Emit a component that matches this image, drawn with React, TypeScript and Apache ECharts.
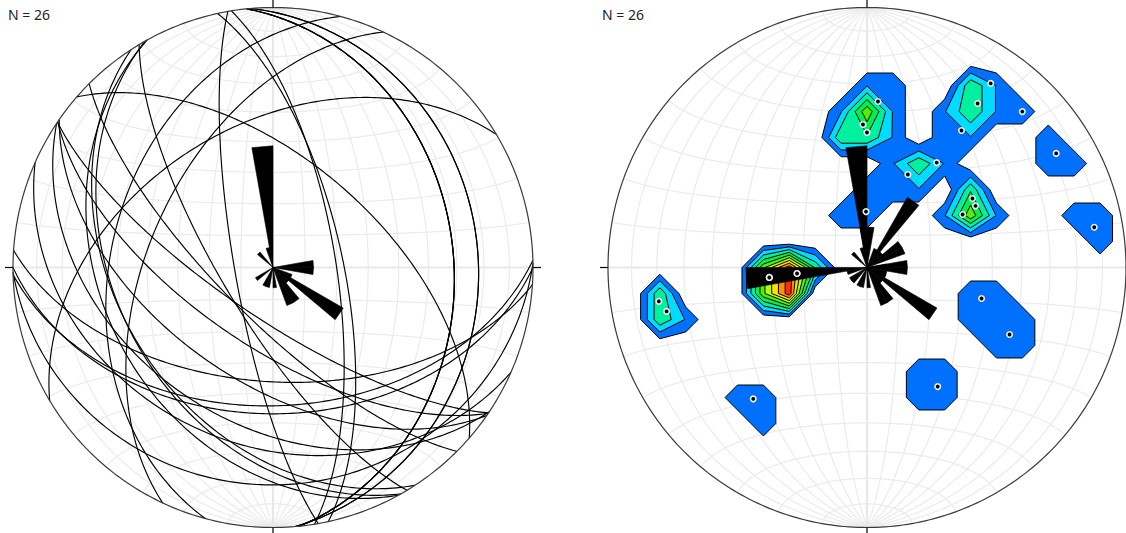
import React, { useEffect, useRef } from 'react';
import * as echarts from 'echarts';

// ---- data: planes (dip direction °, dip °) ----
const dipDirections = [183.8, 178.4, 180.0, 179.0, 203.8, 213.7, 214.0, 214.1, 214.7, 225.0, 239.0, 236.9, 240.5, 241.1, 260.0, 80.8, 77.7, 84.2, 84.2, 84.2, 85.1, 85.1, 285.1, 295.1, 329.2, 41.0];
const dips = [53.8, 45.8, 43.1, 17.5, 32.1, 40.1, 74.3, 65.2, 53.9, 73.7, 74.1, 40.2, 39.8, 34.7, 78.1, 70.3, 68.1, 31.1, 31.1, 31.1, 22.1, 22.1, 37.8, 50.9, 44.3, 56.5];

// density contour levels (% per 1% area) and their colours
const contourLevels = [2, 4, 6, 8, 10, 12, 14, 16, 18];
const contourColors = ['#0070ff', '#00dcff', '#00f0a0', '#00f050', '#50f000', '#b0ff00', '#ffe000', '#ff9000', '#ff3000'];
const netLabel = 'N = ' + dipDirections.length;
const roseBinWidth = 10;

// ---- layout / style constants ----
const R = 260;
const CY = 267.5;
const CX = [273, 868];
const ROSE_UNIT = 0.078; // radius fraction per count
const TICK = 8 / R;

const D = Math.PI / 180;
type V3 = [number, number, number];
const project = (v: V3): [number, number] => {
  const f = 1 / Math.sqrt(1 + v[2]);
  return [v[0] * f, v[1] * f];
};

function greatCircle(dd: number, dip: number): [number, number][] {
  const az = (dd - 90) * D, d = dd * D, dp = dip * D;
  const s: V3 = [Math.sin(az), Math.cos(az), 0];
  const w: V3 = [Math.sin(d) * Math.cos(dp), Math.cos(d) * Math.cos(dp), Math.sin(dp)];
  const pts: [number, number][] = [];
  for (let t = 0; t <= 180; t += 1) {
    const c = Math.cos(t * D), sn = Math.sin(t * D);
    pts.push(project([c * s[0] + sn * w[0], c * s[1] + sn * w[1], Math.max(0, c * s[2] + sn * w[2])]));
  }
  return pts;
}
function smallCircle(alpha: number): [number, number][] {
  const pts: [number, number][] = [];
  const a = alpha * D;
  for (let p = 0; p <= 180; p += 1) {
    pts.push(project([Math.sin(a) * Math.cos(p * D), Math.cos(a), Math.sin(a) * Math.sin(p * D)]));
  }
  return pts;
}
const poleVec = (dd: number, dip: number): V3 => {
  const tr = (dd + 180) * D, pl = (90 - dip) * D;
  return [Math.sin(tr) * Math.cos(pl), Math.cos(tr) * Math.cos(pl), Math.sin(pl)];
};

// net
const netMinor: [number, number][][] = [];
const netMajor: [number, number][][] = [];
for (let a = 10; a <= 80; a += 10) { netMinor.push(greatCircle(90, a)); netMinor.push(greatCircle(270, a)); }
netMajor.push(greatCircle(90, 90));
for (let a = 10; a <= 170; a += 10) { (a === 90 ? netMajor : netMinor).push(smallCircle(a)); }
const primitive: [number, number][] = [];
for (let a = 0; a <= 360; a += 1) primitive.push([Math.sin(a * D), Math.cos(a * D)]);
const ticks: [number, number][][] = [
  [[0, 1], [0, 1 + TICK]], [[0, -1], [0, -1 - TICK]], [[1, 0], [1 + TICK, 0]], [[-1, 0], [-1 - TICK, 0]],
];

const planeCircles = dipDirections.map((dd, i) => greatCircle(dd, dips[i]));
const poles = dipDirections.map((dd, i) => poleVec(dd, dips[i]));
const polePoints = poles.map((p) => project(p));

// roses
function roseCounts(angles: number[]) {
  const c = new Array(360 / roseBinWidth).fill(0);
  angles.forEach((a) => { c[Math.floor((((a % 360) + 360) % 360) / roseBinWidth)]++; });
  return c;
}
const strikes = dipDirections.map((d) => d - 90);
const poleTrends = dipDirections.map((d) => d + 180);
const strikeRose = roseCounts(strikes);
const trendRose = roseCounts(poleTrends);
const roseItems = (counts: number[]) => counts.map((c, i) => [0, 0, i * roseBinWidth, c]).filter((d) => d[3] > 0);

// density grid (1% counting circle)
const STEP = 0.1, OFF = 12, NG = 25;
const CAP = 0.99;
const dens: number[][] = [];
for (let i = 0; i < NG; i++) {
  dens.push([]);
  for (let j = 0; j < NG; j++) {
    const X = (i - OFF) * STEP, Y = (j - OFF) * STEP, r2 = X * X + Y * Y;
    let v = 0;
    if (r2 <= 1.22) {
      const z = 1 - r2, h = Math.sqrt(Math.max(0, 1 - z * z)), r = Math.sqrt(r2);
      const x = r > 0 ? (X / r) * h : 0, y = r > 0 ? (Y / r) * h : 0;
      let c = 0;
      poles.forEach((p) => { if (Math.abs(p[0] * x + p[1] * y + p[2] * z) >= CAP) c++; });
      v = (c * 100) / poles.length;
    }
    dens[i].push(v);
  }
}
type P2 = [number, number];
function contour(t: number) {
  const polys: P2[][] = [];
  const segs: [P2, P2][] = [];
  for (let i = 0; i < NG - 1; i++) {
    for (let j = 0; j < NG - 1; j++) {
      const cs = [[i, j], [i + 1, j], [i + 1, j + 1], [i, j + 1]];
      const v = cs.map(([a, b]) => dens[a][b]);
      const ins = v.map((x) => x >= t);
      const cnt = ins.filter(Boolean).length;
      if (cnt === 0) continue;
      const P = (k: number): P2 => [(cs[k][0] - OFF) * STEP, (cs[k][1] - OFF) * STEP];
      const E = (k: number): P2 => {
        const k2 = (k + 1) % 4;
        const f = (t - v[k]) / (v[k2] - v[k]);
        const a = P(k), b = P(k2);
        return [a[0] + (b[0] - a[0]) * f, a[1] + (b[1] - a[1]) * f];
      };
      if (cnt === 4) { polys.push([P(0), P(1), P(2), P(3)]); continue; }
      const saddle = cnt === 2 && ins[0] === ins[2];
      const centerIn = (v[0] + v[1] + v[2] + v[3]) / 4 >= t;
      if (saddle && !centerIn) {
        for (let k = 0; k < 4; k++) if (ins[k]) polys.push([E((k + 3) % 4), P(k), E(k)]);
      } else {
        const poly: P2[] = [];
        for (let k = 0; k < 4; k++) {
          if (ins[k]) poly.push(P(k));
          if (ins[k] !== ins[(k + 1) % 4]) poly.push(E(k));
        }
        polys.push(poly);
      }
      if (saddle) {
        for (let k = 0; k < 4; k++) if (ins[k] !== centerIn) segs.push([E((k + 3) % 4), E(k)]);
      } else {
        const cr: P2[] = [];
        for (let k = 0; k < 4; k++) if (ins[k] !== ins[(k + 1) % 4]) cr.push(E(k));
        if (cr.length === 2) segs.push([cr[0], cr[1]]);
      }
    }
  }
  return { polys, segs };
}
const contours = contourLevels.map((l) => contour(l));

// ---- series builders ----
function polySeries(grid: number, lines: [number, number][][], style: any, z: number) {
  return {
    type: 'custom', xAxisIndex: grid, yAxisIndex: grid, z, silent: true,
    data: lines.map((_, i) => [0, 0, i]),
    renderItem: (_p: any, api: any) => {
      const pts = lines[api.value(2)].map((p) => api.coord(p));
      return { type: 'polyline', shape: { points: pts }, style: { fill: 'none', ...style } };
    },
  };
}
function roseSeries(grid: number, items: number[][], z: number) {
  return {
    type: 'custom', xAxisIndex: grid, yAxisIndex: grid, z, silent: true,
    data: items,
    renderItem: (_p: any, api: any) => {
      const a1 = api.value(2) * D, a2 = (api.value(2) + roseBinWidth) * D, L = api.value(3) * ROSE_UNIT;
      const pts = [api.coord([0, 0]), api.coord([L * Math.sin(a1), L * Math.cos(a1)]), api.coord([L * Math.sin(a2), L * Math.cos(a2)])];
      return { type: 'polygon', shape: { points: pts }, style: { fill: '#000', stroke: '#000', lineWidth: 0.6, lineJoin: 'round' } };
    },
  };
}
const contourFillSeries = {
  type: 'custom', xAxisIndex: 1, yAxisIndex: 1, z: 2, silent: true,
  data: contourLevels.map((_, k) => [0, 0, k]),
  renderItem: (_p: any, api: any) => {
    const k = api.value(2);
    let d = '';
    contours[k].polys.forEach((poly) => {
      poly.forEach((p, n) => { const c = api.coord(p); d += (n === 0 ? 'M' : 'L') + c[0].toFixed(2) + ' ' + c[1].toFixed(2) + ' '; });
      d += 'Z ';
    });
    if (!d) return null;
    return { type: 'path', shape: { pathData: d }, style: { fill: contourColors[k], stroke: 'none' } };
  },
};
const contourLineSeries = {
  type: 'custom', xAxisIndex: 1, yAxisIndex: 1, z: 3, silent: true,
  data: contourLevels.map((_, k) => [0, 0, k]),
  renderItem: (_p: any, api: any) => {
    const k = api.value(2);
    let d = '';
    contours[k].segs.forEach(([a, b]) => {
      const ca = api.coord(a), cb = api.coord(b);
      d += 'M' + ca[0].toFixed(2) + ' ' + ca[1].toFixed(2) + ' L' + cb[0].toFixed(2) + ' ' + cb[1].toFixed(2) + ' ';
    });
    if (!d) return null;
    return { type: 'path', shape: { pathData: d }, style: { fill: 'none', stroke: '#000', lineWidth: 1 } };
  },
};
const maskSeries = {
  type: 'custom', xAxisIndex: 1, yAxisIndex: 1, z: 4, silent: true,
  data: [[0, 0]],
  renderItem: (_p: any, api: any) => {
    const c = api.coord([0, 0]);
    const r0 = api.size([1, 0])[0];
    return { type: 'ring', shape: { cx: c[0], cy: c[1], r0: r0 + 0.5, r: r0 + 55 }, style: { fill: '#fff' } };
  },
};

function buildOption() {
  const series: any[] = [];
  [0, 1].forEach((g) => {
    series.push(polySeries(g, netMinor, { stroke: '#ebebeb', lineWidth: 1.2 }, 1));
    series.push(polySeries(g, netMajor, { stroke: '#e8e8e8', lineWidth: 2.2 }, 1));
    series.push(polySeries(g, [primitive], { stroke: '#3a3a3a', lineWidth: 1.2 }, 7));
    series.push(polySeries(g, ticks, { stroke: '#000', lineWidth: 1.2 }, 7));
  });
  series.push(polySeries(0, planeCircles, { stroke: '#000', lineWidth: 1.15 }, 5));
  series.push(roseSeries(0, roseItems(strikeRose), 6));
  series.push(contourFillSeries, contourLineSeries, maskSeries);
  series.push(roseSeries(1, roseItems(strikeRose), 6));
  series.push(roseSeries(1, roseItems(trendRose), 6));
  series.push({
    type: 'scatter', xAxisIndex: 1, yAxisIndex: 1, z: 8, silent: true,
    symbol: 'circle', symbolSize: 5.5,
    itemStyle: { color: '#000', borderColor: '#f0f0f0', borderWidth: 1.6, opacity: 1 },
    data: polePoints,
  });
  return {
    animation: false,
    backgroundColor: '#fff',
    grid: CX.map((cx) => ({ left: cx - R, top: CY - R, width: 2 * R, height: 2 * R, show: false })),
    xAxis: [0, 1].map((g) => ({ type: 'value', gridIndex: g, min: -1, max: 1, show: false })),
    yAxis: [0, 1].map((g) => ({ type: 'value', gridIndex: g, min: -1, max: 1, show: false })),
    graphic: [8, 602].map((x) => ({
      type: 'text', x, y: 14, z: 10,
      style: { text: netLabel, font: '14px "Noto Sans"', fill: '#222', verticalAlign: 'middle' },
    })),
    series,
  };
}

export default function App() {
  const ref = useRef<HTMLDivElement>(null);
  useEffect(() => {
    const chart = echarts.init(ref.current!, null, { renderer: 'svg' });
    chart.setOption(buildOption() as any);
    return () => chart.dispose();
  }, []);
  return <div ref={ref} style={{ position: 'absolute', left: 0, top: 0, width: 1126, height: 533, background: '#fff' }} />;
}
